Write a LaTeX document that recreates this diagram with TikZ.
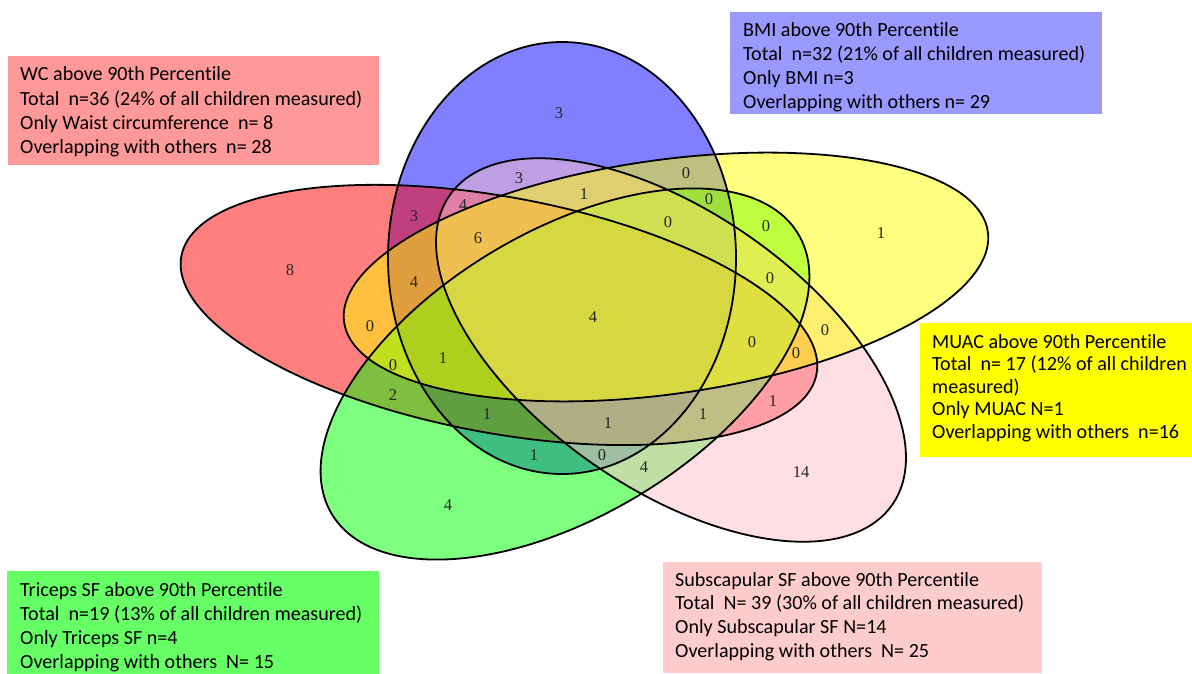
\documentclass[tikz,border=0pt]{standalone}
\usepackage{fontspec}
\setmainfont{Carlito}[Ligatures={NoCommon}]
\newfontfamily\numfont{Liberation Serif}
\definecolor{vred}{RGB}{255,0,0}
\definecolor{vblue}{RGB}{0,0,255}
\definecolor{vgreen}{RGB}{0,255,0}
\definecolor{vpink}{RGB}{255,192,203}
\definecolor{vyellow}{RGB}{255,255,0}
\definecolor{wcbox}{RGB}{255,153,153}
\definecolor{bmibox}{RGB}{153,153,255}
\definecolor{muacbox}{RGB}{255,255,0}
\definecolor{tricbox}{RGB}{102,255,102}
\definecolor{subbox}{RGB}{255,204,204}
\begin{document}
\begin{tikzpicture}[x=1pt,y=-1pt,
  setfill/.style={fill opacity=0.5},
  outline/.style={draw=black,line width=1.8pt},
  cnt/.style={font=\numfont\fontsize{16.5}{18}\selectfont, text=black!85, inner sep=0pt},
  infoline/.style={anchor=base west, inner sep=0pt, font=\fontsize{20.1}{23}\selectfont, text=black}]
\useasboundingbox (0,0) rectangle (1192,674);
\fill[white] (0,0) rectangle (1192,674);
% ellipse centres
\coordinate (cB) at (562,258);
\coordinate (cR) at (499,315);
\coordinate (cG) at (565,374);
\coordinate (cP) at (671,350);
\coordinate (cY) at (666,277);
% fills
\fill[vblue,setfill] (cB) ellipse [x radius=174, y radius=216];
\fill[vred,setfill,rotate around={-10.5:(cR)}] (cR) ellipse [x radius=323, y radius=118];
\fill[vgreen,setfill,rotate around={31:(cG)}] (cG) ellipse [x radius=272, y radius=142];
\fill[vpink,setfill,rotate around={-35:(cP)}] (cP) ellipse [x radius=270, y radius=138];
\fill[vyellow,setfill,rotate around={8:(cY)}] (cY) ellipse [x radius=325, y radius=117];
% outlines
\draw[outline] (cB) ellipse [x radius=174, y radius=216];
\draw[outline,rotate around={-10.5:(cR)}] (cR) ellipse [x radius=323, y radius=118];
\draw[outline,rotate around={31:(cG)}] (cG) ellipse [x radius=272, y radius=142];
\draw[outline,rotate around={-35:(cP)}] (cP) ellipse [x radius=270, y radius=138];
\draw[outline,rotate around={8:(cY)}] (cY) ellipse [x radius=325, y radius=117];
% counts
\node[cnt] (n1) at (559,113) {3};
\node[cnt] (n2) at (519,178) {3};
\node[cnt] (n3) at (584,194) {1};
\node[cnt] (n4) at (686,173) {0};
\node[cnt] (n5) at (709,199) {0};
\node[cnt] (n6) at (414,216) {3};
\node[cnt] (n7) at (463,205) {4};
\node[cnt] (n8) at (478,238) {6};
\node[cnt] (n9) at (668,222) {0};
\node[cnt] (n10) at (766,226) {0};
\node[cnt] (n11) at (881,233) {1};
\node[cnt] (n12) at (290,270) {8};
\node[cnt] (n13) at (414,282) {4};
\node[cnt] (n14) at (770,278) {0};
\node[cnt] (n15) at (370,326) {0};
\node[cnt] (n16) at (593,317) {4};
\node[cnt] (n17) at (825,330) {0};
\node[cnt] (n18) at (752,342) {0};
\node[cnt] (n19) at (393,365) {0};
\node[cnt] (n20) at (443,358) {1};
\node[cnt] (n21) at (796,353) {0};
\node[cnt] (n22) at (393,395) {2};
\node[cnt] (n23) at (773,401) {1};
\node[cnt] (n24) at (487,414) {1};
\node[cnt] (n25) at (608,423) {1};
\node[cnt] (n26) at (703,414) {1};
\node[cnt] (n27) at (534,455) {1};
\node[cnt] (n28) at (602,455) {0};
\node[cnt] (n29) at (644,467) {4};
\node[cnt] (n30) at (801,472) {14};
\node[cnt] (n31) at (448,505) {4};
% info boxes
\fill[wcbox] (8,56) rectangle (379,165);
\fill[bmibox] (730,12) rectangle (1102,114);
\fill[muacbox] (920,323) rectangle (1192,457);
\fill[tricbox] (7,571) rectangle (379,674);
\fill[subbox] (663,562) rectangle (1042,673);
% WC
\node[infoline] (wc1) at (20,81) {WC above 90th Percentile};
\node[infoline] (wc2) at (20,105.4) {Total~~n=36 (24\% of all children measured)};
\node[infoline] (wc3) at (20,129.6) {Only Waist circumference~~n= 8};
\node[infoline] (wc4) at (20,154) {Overlapping with others~~n= 28};
% BMI
\node[infoline] (bmi1) at (743,37) {BMI above 90th Percentile};
\node[infoline] (bmi2) at (743,61) {Total~~n=32 (21\% of all children measured)};
\node[infoline] (bmi3) at (743,85) {Only BMI n=3};
\node[infoline] (bmi4) at (743,109) {Overlapping with others n= 29};
% MUAC
\node[infoline] (mu1) at (932,348) {MUAC above 90th Percentile};
\node[infoline] (mu2) at (932,370.5) {Total~~n= 17 (12\% of all children};
\node[infoline] (mu3) at (932,393) {measured)};
\node[infoline] (mu4) at (932,415.5) {Only MUAC N=1};
\node[infoline] (mu5) at (932,438) {Overlapping with others~~n=16};
% Triceps
\node[infoline] (tr1) at (20,596) {Triceps SF above 90th Percentile};
\node[infoline] (tr2) at (20,620) {Total~~n=19 (13\% of all children measured)};
\node[infoline] (tr3) at (20,644) {Only Triceps SF n=4};
\node[infoline] (tr4) at (20,668) {Overlapping with others~~N= 15};
% Subscapular
\node[infoline] (sb1) at (675,586) {Subscapular SF above 90th Percentile};
\node[infoline] (sb2) at (675,609.5) {Total~~N= 39 (30\% of all children measured)};
\node[infoline] (sb3) at (675,633) {Only Subscapular SF N=14};
\node[infoline] (sb4) at (675,657) {Overlapping with others~~N= 25};
\end{tikzpicture}
\end{document}
